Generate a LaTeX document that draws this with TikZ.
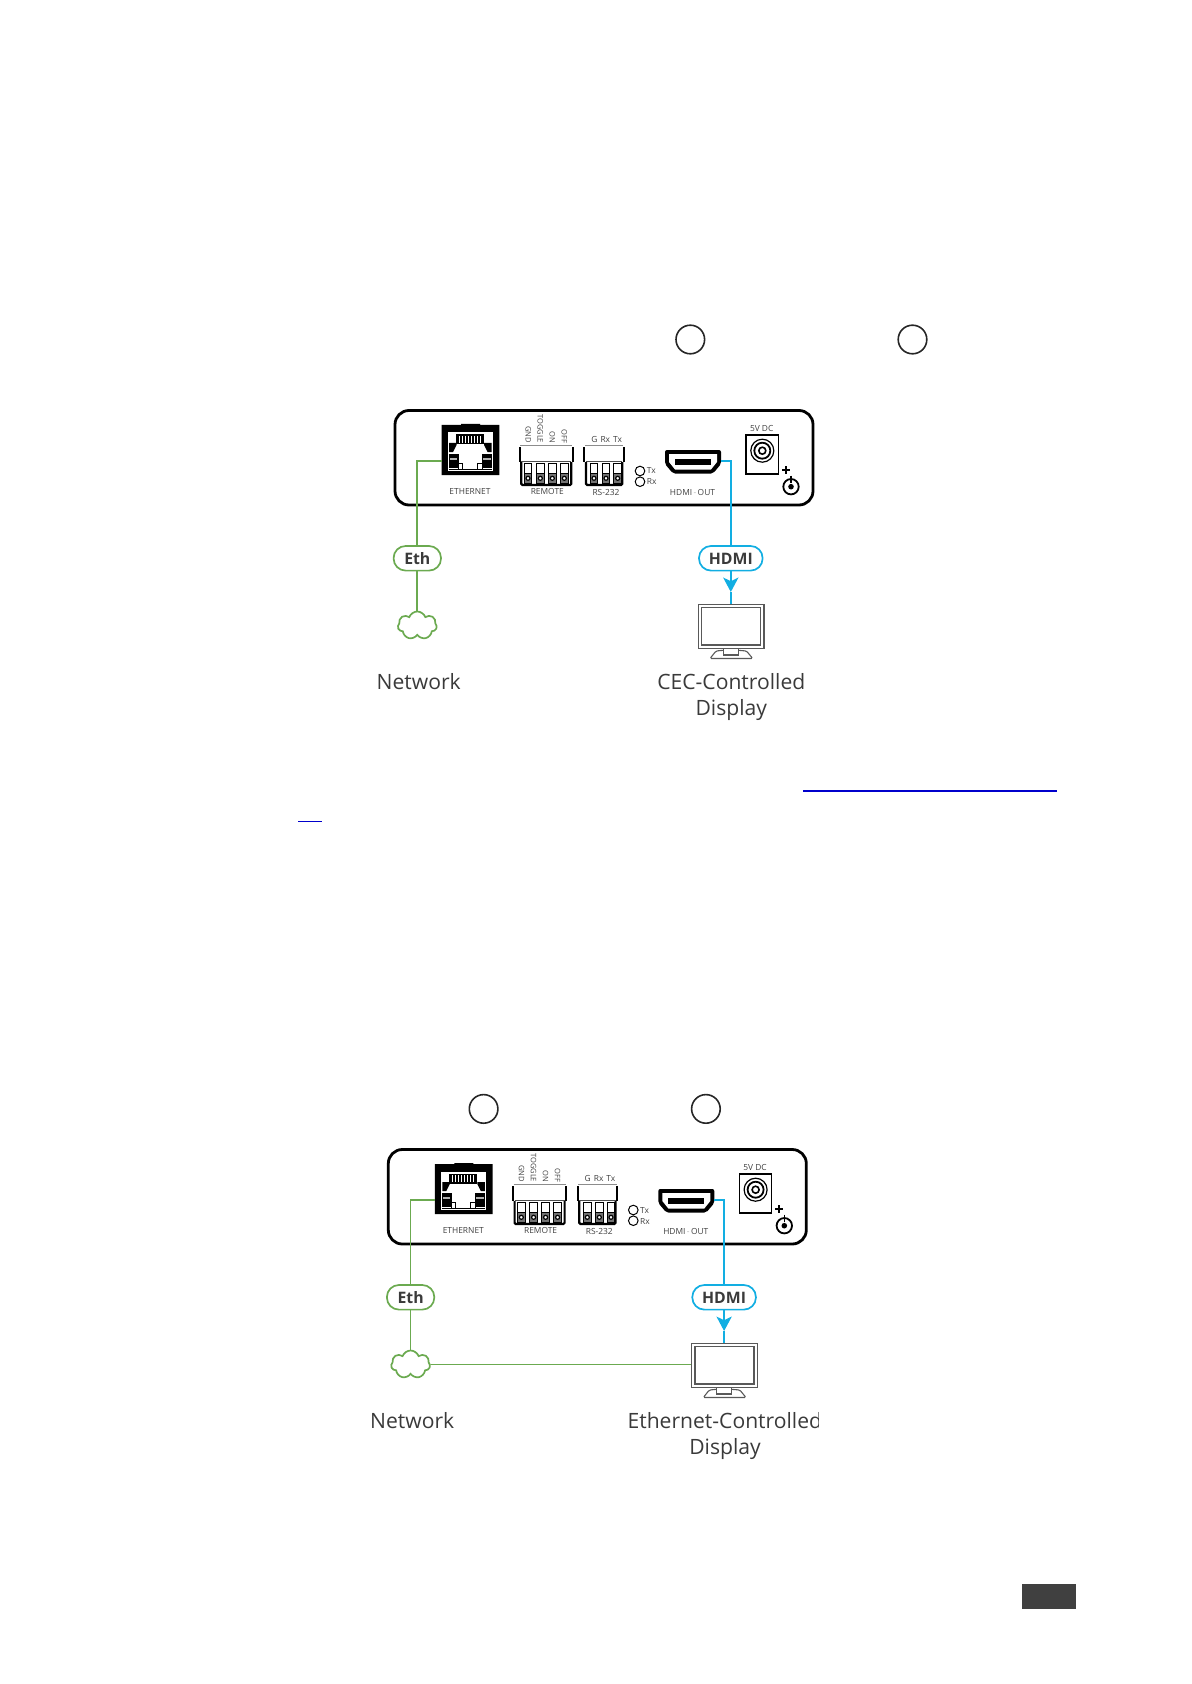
\documentclass[tikz,border=0pt]{standalone}
\usepackage{fontspec}
\setmainfont{Open Sans}
\usetikzlibrary{shapes.symbols,arrows.meta}
\definecolor{ethgreen}{HTML}{6BAA50}
\definecolor{hdmiblue}{HTML}{12AEE2}
\definecolor{inkgrey}{HTML}{3A3A3A}
\definecolor{linkblue}{HTML}{0000CC}
\definecolor{footgrey}{HTML}{404040}
\tikzset{
  every node/.style={text=inkgrey},
  tiny label/.style={inner sep=0pt,font=\fontsize{4.2}{5}\selectfont,text=black!75},
  side label/.style={inner sep=0pt,rotate=-90,anchor=east,font=\fontsize{3.75}{5}\selectfont,text=black!75},
  big label/.style={anchor=base,inner sep=0pt,font=\fontsize{10.55}{13}\selectfont},
  pill/.style={draw,rounded corners=6pt,line width=.85pt,inner sep=0pt,minimum height=12.3pt,text height=5.7pt,text depth=0pt,font=\bfseries\fontsize{7.9}{9}\selectfont},
  eth wire/.style={draw=ethgreen,line width=.85pt},
  hdmi wire/.style={draw=hdmiblue,line width=.9pt},
  bubble/.style={draw=black!85,circle,line width=.8pt,minimum size=14.3pt,inner sep=0pt},
  net cloud/.style={cloud,cloud puffs=7,cloud puff arc=140,aspect=1.4,draw=ethgreen,line width=.85pt,minimum width=19.5pt,minimum height=14pt,inner sep=0pt},
  screen/.style={draw=black!65,line width=.55pt,inner sep=0pt,minimum width=32.8pt,minimum height=22pt},
  panel body/.style={draw=black,line width=1.4pt,rounded corners=7pt},
  thin part/.style={draw=black,line width=.45pt},
  wire tip/.style={-{Stealth[length=7.2pt,width=7.6pt,inset=1.8pt]}},
}
\newcommand\terminalat[1]{%
  \draw[thin part,fill=white] (#1-3.9,463) rectangle (#1+3.9,473.5);
  \draw[thin part,fill=black!55] (#1-3.9,473.5) rectangle (#1+3.9,483);
  \draw[thin part,fill=white,line width=.6pt] (#1,478.3) circle (2);
}
\newcommand\blockbody[2]{%
  \draw[black!45,line width=.4pt] (#1+1,445.5) -- (#2-1,445.5);
  \draw[black!70,line width=.4pt] (#1+2,461.5) -- (#2-2,461.5);
  \draw[black,line width=1.1pt,rounded corners=1pt] (#1+.3,447) -- (#1+.3,462) (#2-.3,447) -- (#2-.3,462);
  \draw[black,line width=1.1pt,rounded corners=.6pt] (#1+2,462) -- (#1+2,485) -- (#2-2,485) -- (#2-2,462);
}
\newcommand\rearpanel[3]{%
\begin{scope}[shift={(#2,#3)}]
  \draw[panel body] (395,410.5) rectangle (813,505);
  \fill[black] (441.5,425) -- (461,425) -- (461,424) -- (480,424) -- (480,425) -- (499.3,425) -- (499.3,475) -- (441.5,475) -- cycle;
  \fill[white] (447.7,432.5) rectangle (492.7,471);
  \fill[black] (456,434.5) rectangle (483.5,444.5);
  \foreach \sx in {459,462,...,481} \fill[white] (\sx,436) rectangle (\sx+1,443);
  \fill[black] (449,443) -- (456.5,443) -- (456.5,445) -- (453,452) -- (449,452) -- cycle;
  \fill[black] (491.5,443) -- (484,443) -- (484,445) -- (487.5,452) -- (491.5,452) -- cycle;
  \fill[black] (449,454) rectangle (458.5,468);
  \fill[black] (481.5,454) rectangle (491.5,468);
  \fill[black!30] (450,458) rectangle (457,460);
  \fill[black!30] (483,458) rectangle (490.5,460);
  \draw[thin part,fill=white] (458,463) rectangle (462,469);
  \draw[thin part,fill=white] (477.5,463) rectangle (482,469);
  \draw[black,line width=.6pt] (449,469.5) -- (491.5,469.5);
  \coordinate (#1rj) at (441.5,461);
  \node[tiny label] (#1rjtext) at (470,491.7) {ETHERNET};
  \blockbody{519.3}{573.3}
  \terminalat{528}\terminalat{540.3}\terminalat{552.3}\terminalat{564.3}
  \node[side label] (#1gnd) at (528.3,443.5) {GND};
  \node[side label] (#1tog) at (540.3,443.5) {TOGGLE};
  \node[side label] (#1on) at (552.3,443.5) {ON};
  \node[side label] (#1off) at (564.3,443.5) {OFF};
  \node[tiny label] (#1remtext) at (547.3,491.5) {REMOTE};
  \blockbody{584}{624.3}
  \terminalat{594}\terminalat{606}\terminalat{617.7}
  \node[tiny label] (#1gtx) at (606.7,439.5) {G\hspace{1.5pt}Rx\hspace{1.5pt}Tx};
  \node[tiny label] (#1rstext) at (606,492.5) {RS-232};
  \draw[thin part,line width=.5pt] (640,471) circle (4.8);
  \draw[thin part,line width=.5pt] (640,481.7) circle (4.8);
  \node[tiny label,anchor=west] (#1tx) at (646.5,471) {Tx};
  \node[tiny label,anchor=west] (#1rx) at (646.5,482) {Rx};
  \fill[black,rounded corners=1pt] (665,450) -- (721,450) -- (721,464) -- (713,473.5) -- (673,473.5) -- (665,464) -- cycle;
  \fill[white] (669,454) -- (717,454) -- (717,462) -- (711,469.5) -- (675,469.5) -- (669,462) -- cycle;
  \fill[black] (675,458.5) rectangle (711,465);
  \coordinate (#1hdmi) at (720.7,461);
  \node[tiny label] (#1hdmitext) at (692.5,492) {HDMI\,\textcolor{black!30}{-}\,OUT};
  \node[tiny label] (#1dc) at (761.7,428) {5V DC};
  \draw[draw=black,line width=.8pt] (746,435) rectangle (778.3,474);
  \draw[thin part,line width=.6pt] (762.3,450.7) circle (11.5);
  \draw[thin part,line width=.9pt] (762.3,450.7) circle (8);
  \draw[thin part,line width=.8pt] (762.3,450.7) circle (3.5);
  \draw[black,line width=1.1pt] (782,470) -- (789.5,470) (785.7,466.2) -- (785.7,473.8);
  \draw[black,line width=.8pt] (791,475.5) -- (791,483);
  \draw[black,line width=.9pt] (791,486.7) circle (7.7);
  \fill[black] (791,486.7) circle (2.8);
\end{scope}}
\newcommand\monitorparts[3]{%
  \begin{scope}[shift={(#2,#3)}]
  \node[screen] (#1mon) at (731.2,626.3) {};
  \draw[black!65,line width=.55pt] (701.7,607.7) rectangle (760.7,645);
  \draw[black!65,line width=.55pt] (723.3,648.3) -- (723.3,655) -- (738.3,655) -- (738.3,648.3);
  \draw[black!65,line width=.55pt,rounded corners=.7pt] (723.3,650.3) -- (716,651) -- (710,658.5) -- (752.7,658.5) -- (746.5,651) -- (738.3,650.3);
  \end{scope}}
\begin{document}
\begin{tikzpicture}[x=.5pt,y=-.5pt]
\useasboundingbox (0,0) rectangle (1191,1684);
\node[bubble] (b1) at (690.3,339.5) {};
\node[bubble] (b2) at (912.5,339.5) {};
\node[bubble] (b3) at (483.6,1108.9) {};
\node[bubble] (b4) at (705.9,1108.9) {};
\fill[linkblue] (803,789.8) rectangle (1057,791.7);
\fill[linkblue] (298,820.8) rectangle (322,822);
\fill[footgrey] (1022.3,1584) rectangle (1076,1609);

\rearpanel{a}{0}{0}
\node[pill,draw=ethgreen,minimum width=23.7pt] (aeth) at (417.3,558.3) {Eth};
\node[pill,draw=hdmiblue,minimum width=31.8pt] (ahd) at (730.8,558.3) {HDMI};
\node[net cloud] (acloud) at (417.3,625.5) {};
\monitorparts{a}{0}{0}
\coordinate (atip) at (730.8,592);
\draw[eth wire] (arj) -| (aeth.north);
\draw[eth wire] (aeth.south) -- (aeth.south |- acloud.north);
\draw[hdmi wire] (ahdmi) -| (ahd.north);
\draw[hdmi wire,wire tip] (ahd.south) -- (atip);
\draw[hdmi wire] (atip) -- (atip |- amon.north);
\node[big label] (anet) at (418.7,689) {Network};
\node[big label] (acec) at (731.3,689) {CEC-Controlled};
\node[big label] (adisp) at (731.3,715) {Display};

\rearpanel{c}{-6.7}{739}
\node[pill,draw=ethgreen,minimum width=23.7pt] (ceth) at (410.6,1297.3) {Eth};
\node[pill,draw=hdmiblue,minimum width=31.8pt] (chd) at (724.1,1297.3) {HDMI};
\node[net cloud] (ccloud) at (410.6,1364.5) {};
\monitorparts{c}{-6.7}{739}
\coordinate (ctip) at (724.1,1331);
\draw[eth wire] (crj) -| (ceth.north);
\draw[eth wire] (ceth.south) -- (ceth.south |- ccloud.north);
\draw[eth wire] (ccloud.east) -- (cmon.west |- ccloud.east);
\draw[hdmi wire] (chdmi) -| (chd.north);
\draw[hdmi wire,wire tip] (chd.south) -- (ctip);
\draw[hdmi wire] (ctip) -- (ctip |- cmon.north);
\node[big label] (cnet) at (412.2,1428) {Network};
\begin{scope}
  \clip (600,1400) rectangle (818.8,1440);
  \node[big label] (cctl) at (724.8,1428) {Ethernet-Controlled};
\end{scope}
\node[big label] (cdisp) at (725,1454) {Display};
\end{tikzpicture}
\end{document}
